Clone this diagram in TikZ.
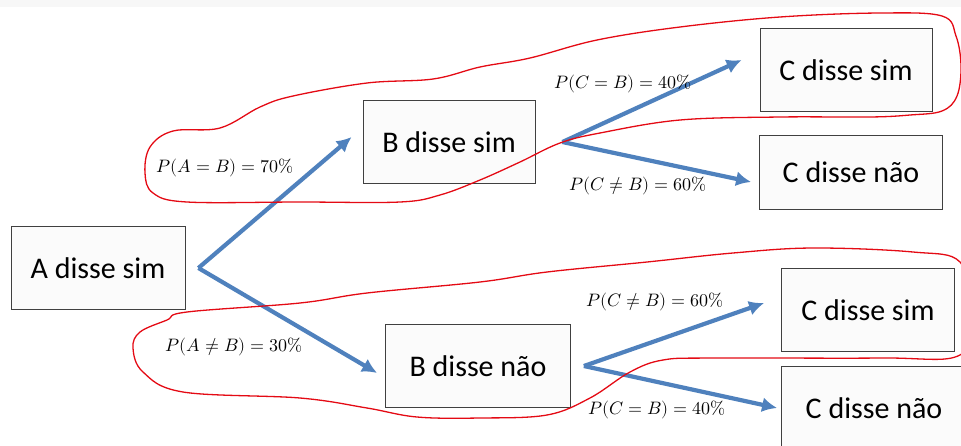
\documentclass[tikz,border=0pt]{standalone}
\usepackage{fontspec}
\usepackage{unicode-math}
\setmainfont{Carlito}
\setmathfont{Latin Modern Math}
\usetikzlibrary{shapes,arrows.meta,calc}
\definecolor{arrowblue}{RGB}{79,129,189}
\definecolor{loopred}{RGB}{228,10,20}
\tikzstyle{line} = [draw=arrowblue, line width=4.2pt, -{Latex[length=15pt,width=15pt]}]
\tikzstyle{block} = [draw=black!75, fill=gray!3, line width=0.8pt, rectangle, text centered, minimum width=172pt, minimum height=83pt, font=\fontsize{30}{36}\selectfont]
\tikzstyle{prob} = [inner sep=0pt, font=\fontsize{18}{20}\selectfont]
\tikzstyle{loop} = [draw=loopred, line width=1.3pt]

\begin{document}
\begin{tikzpicture}[x=1pt, y=-1pt]
        \clip (0,0) rectangle (961,445);
        \fill[gray!6] (0,0) rectangle (961,7);
        \node[block, minimum width=174pt] (a) at (98,268) {A disse sim};
        \node[block] (bsim) at (449,142) {B disse sim};
        \node[block, minimum width=185pt] (bnao) at (478,366) {B disse não};
        \node[block] (c1) at (846,70) {C disse sim};
        \node[block, minimum width=183pt, minimum height=74pt] (c2) at (851,172) {C disse não};
        \node[block, minimum width=173pt] (c3) at (868,310) {C disse sim};
        \node[block, minimum width=185pt] (c4) at (874,408) {C disse não};
        % fork points of the arrows
        \coordinate (fa) at ([xshift=13pt]a.east);
        \coordinate (fb1) at ([xshift=27pt]bsim.east);
        \coordinate (fb2) at ([xshift=13pt]bnao.east);
        \path[line] (fa) -- ([xshift=-11pt,yshift=5pt]bsim.west);
        \path[line] (fa) -- ([xshift=-8pt,yshift=-7pt]bnao.west);
        \path[line] (fb1) -- ([xshift=-18pt,yshift=10pt]c1.west);
        \path[line] (fb1) -- ([xshift=-8pt,yshift=-10pt]c2.west);
        \path[line] (fb2) -- ([xshift=-17pt,yshift=7pt]c3.west);
        \path[line] (fb2) -- ([xshift=-4pt]c4.west);
        \node[prob] (pab) at (225,168) {$P(A=B)=70\%$};
        \node[prob] (pnab) at (234,347) {$P(A\neq B)=30\%$};
        \node[prob] (pcb1) at (623,84) {$P(C=B)=40\%$};
        \node[prob] (pncb1) at (638,186) {$P(C\neq B)=60\%$};
        \node[prob] (pncb2) at (655,302) {$P(C\neq B)=60\%$};
        \node[prob] (pcb2) at (657,410) {$P(C=B)=40\%$};
        % hand drawn loops
        \draw[loop] plot[smooth cycle, tension=0.6] coordinates {(220,128) (260,107) (293,96) (367,83) (433,79) (480,67) (530,58) (597,40) (680,27) (780,17) (880,13) (942,16) (956,36) (961,66) (957,96) (942,111) (910,115) (870,117) (780,117) (680,120) (600,133) (560,143) (520,162) (480,180) (440,195) (400,202) (300,202) (187,202) (153,193) (145,173) (150,147) (173,131)};
        \draw[loop] plot[smooth cycle, tension=0.6] coordinates {(167,320) (187,312) (300,303) (367,293) (480,282) (547,272) (647,262) (733,253) (813,248) (913,252) (960,262) (970,310) (960,355) (880,358) (713,358) (663,360) (630,372) (590,398) (547,415) (480,418) (417,417) (367,408) (300,398) (183,392) (143,372) (133,348) (140,332)};
    \end{tikzpicture}
\end{document}
